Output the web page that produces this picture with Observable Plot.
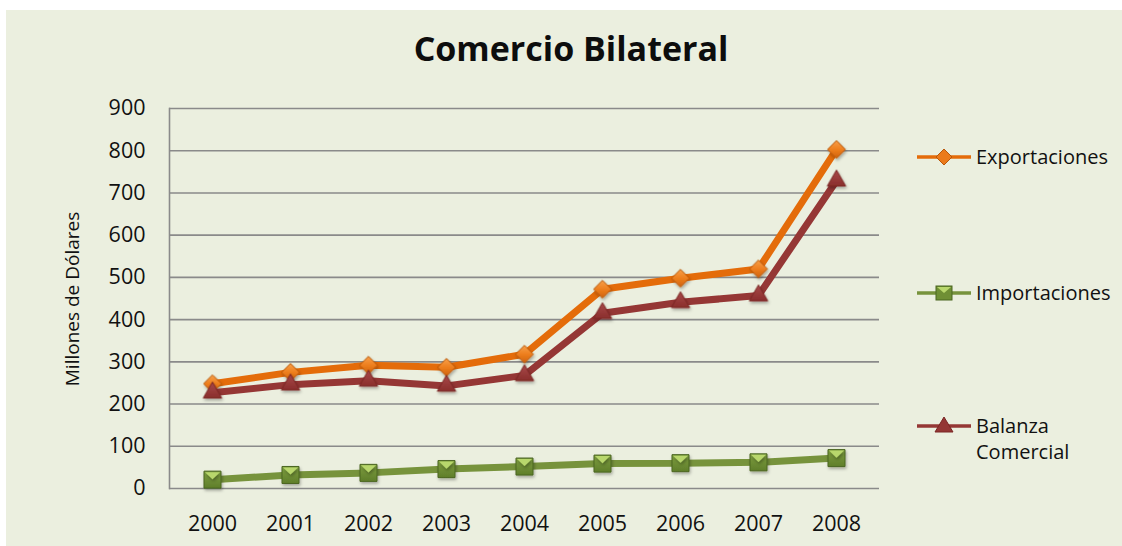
<!DOCTYPE html>
<html>
<head>
<meta charset="utf-8">
<script src="https://cdn.jsdelivr.net/npm/d3@7"></script>
<script src="https://cdn.jsdelivr.net/npm/@observablehq/plot@0.6"></script>
<style>
  html, body { margin: 0; padding: 0; background: #ffffff; }
  body { width: 1122px; height: 546px; overflow: hidden; position: relative; font-family: "Open Sans", sans-serif; color: #111; }
  #frame { position: absolute; left: 6px; top: 10px; width: 1116px; height: 536px; background: #EBEFDF; }
  #title { position: absolute; left: 0; top: 15px; width: 1130px; text-align: center; font-size: 34px; font-weight: 700; color: #0d0d0d; }
  #ylabel { position: absolute; left: 66px; top: 289px; transform: translate(-50%, -50%) rotate(-90deg); white-space: nowrap; font-size: 19px; color: #111; }
  #chart { position: absolute; left: 0; top: 0; }
  .leg { position: absolute; left: 911px; display: flex; align-items: flex-start; font-size: 20px; line-height: 26px; color: #111; }
  .leg svg { flex: none; }
  .leg span { margin-left: 3px; }
</style>
</head>
<body>
<div id="frame">
  <div id="title">Comercio Bilateral</div>
  <div id="chart"></div>
  <div id="ylabel">Millones de Dólares</div>
  <div id="legend"></div>
</div>
<script>
// ---- data ----
const years = ["2000", "2001", "2002", "2003", "2004", "2005", "2006", "2007", "2008"];
const exportaciones = [248, 275, 292, 287, 318, 472, 498, 520, 803];
const importaciones = [21, 32, 37, 46, 52, 59, 60, 62, 72];
const balanza = [227, 246, 255, 243, 268, 415, 441, 457, 729];
const seriesNames = ["Exportaciones", "Importaciones", "Balanza Comercial"];
const seriesColors = ["#E46C0A", "#77933C", "#953735"];
const yTicks = [0, 100, 200, 300, 400, 500, 600, 700, 800, 900];

const valuesBySeries = [exportaciones, importaciones, balanza];
const rows = seriesNames.flatMap((s, k) => years.map((y, i) => ({ year: y, value: valuesBySeries[k][i], serie: s })));
const bySerie = s => rows.filter(d => d.serie === s);

// envelope flap on the square markers
const flap = {
  draw(context, size) {
    const s = Math.sqrt(size) / 2;
    context.moveTo(-s + 1, -s + 1);
    context.lineTo(s - 1, -s + 1);
    context.lineTo(0, -s * 0.05);
    context.closePath();
  }
};

const defs = () => {
  const g = d3.create("svg:defs");
  const gd = g.append("linearGradient").attr("id", "gDiamond").attr("x1", 0).attr("y1", 0).attr("x2", 0).attr("y2", 1);
  gd.append("stop").attr("offset", "0%").attr("stop-color", "#F7A04A");
  gd.append("stop").attr("offset", "50%").attr("stop-color", "#EE7F1E");
  gd.append("stop").attr("offset", "100%").attr("stop-color", "#CF620C");
  const gt = g.append("linearGradient").attr("id", "gTri").attr("x1", 0).attr("y1", 0).attr("x2", 0).attr("y2", 1);
  gt.append("stop").attr("offset", "0%").attr("stop-color", "#A8494A");
  gt.append("stop").attr("offset", "100%").attr("stop-color", "#8A2E2C");
  const gs = g.append("linearGradient").attr("id", "gSq").attr("x1", 0).attr("y1", 0).attr("x2", 0).attr("y2", 1);
  gs.append("stop").attr("offset", "0%").attr("stop-color", "#7E9E40");
  gs.append("stop").attr("offset", "100%").attr("stop-color", "#5F7E2A");
  const f = g.append("filter").attr("id", "shadow").attr("x", "-50%").attr("y", "-50%").attr("width", "200%").attr("height", "200%");
  f.append("feDropShadow").attr("dx", 1).attr("dy", 2).attr("stdDeviation", 1.5).attr("flood-color", "#000").attr("flood-opacity", 0.3);
  return g.node();
};

const plot = Plot.plot({
  width: 900,
  height: 536,
  marginLeft: 163,
  marginRight: 27,
  marginTop: 98,
  marginBottom: 58,
  style: { background: "transparent", fontFamily: "Open Sans, sans-serif", fontSize: "21.5px", color: "#111", overflow: "visible" },
  x: { type: "point", domain: years, padding: 0.5, label: null },
  y: { domain: [0, 900], label: null },
  color: { domain: seriesNames, range: seriesColors },
  marks: [
    defs,
    Plot.gridY(yTicks, { stroke: "#8a8a8a", strokeOpacity: 1, strokeWidth: 1.6 }),
    Plot.frame({ anchor: "left", stroke: "#8a8a8a", strokeWidth: 1.6 }),
    Plot.axisY(yTicks, { tickSize: 0, tickPadding: 24, label: null, tickFormat: d => String(d) }),
    Plot.axisX({ tickSize: 0, tickPadding: 27, label: null }),
    Plot.line(bySerie("Exportaciones"), { x: "year", y: "value", stroke: "serie", strokeWidth: 7, strokeLinejoin: "miter" }),
    Plot.line(bySerie("Importaciones"), { x: "year", y: "value", stroke: "serie", strokeWidth: 7, strokeLinejoin: "miter" }),
    Plot.dot(bySerie("Exportaciones"), { x: "year", y: "value", symbol: "diamond2", r: 8, fill: "url(#gDiamond)", stroke: "#B8570A", strokeWidth: 1 }),
    Plot.dot(bySerie("Importaciones"), { x: "year", y: "value", symbol: "square", r: 9.6, fill: "url(#gSq)", stroke: "#4B6620", strokeWidth: 1 }),
    Plot.dot(bySerie("Importaciones"), { x: "year", y: "value", symbol: flap, r: 9.6, fill: "#B8D76C", stroke: "none" }),
    Plot.line(bySerie("Balanza Comercial"), { x: "year", y: "value", stroke: "serie", strokeWidth: 7, strokeLinejoin: "miter" }),
    Plot.dot(bySerie("Balanza Comercial"), { x: "year", y: "value", symbol: "triangle", r: 6.8, fill: "url(#gTri)", stroke: "#7A2624", strokeWidth: 1 })
  ]
});
plot.querySelectorAll('g[aria-label="dot"]').forEach(g => g.setAttribute("filter", "url(#shadow)"));
document.getElementById("chart").appendChild(plot);

// ---- legend ----
const legendTops = [134, 270, 403];
const legendLabels = [["Exportaciones"], ["Importaciones"], ["Balanza", "Comercial"]];
const legend = document.getElementById("legend");
seriesNames.forEach((s, k) => {
  const div = document.createElement("div");
  div.className = "leg";
  div.style.top = legendTops[k] + "px";
  const sym = d3.create("svg").attr("width", 56).attr("height", 26);
  sym.append("line").attr("x1", 0).attr("x2", 54).attr("y1", 13).attr("y2", 13).attr("stroke", seriesColors[k]).attr("stroke-width", 3.5);
  if (k === 0) {
    sym.append("path").attr("d", "M27,5 L35,13 L27,21 L19,13 Z").attr("fill", "#EB7A1A").attr("stroke", "#B8570A");
  } else if (k === 1) {
    sym.append("rect").attr("x", 19).attr("y", 6).attr("width", 16).attr("height", 14).attr("fill", "#6F8F35").attr("stroke", "#4B6620");
    sym.append("path").attr("d", "M20,7 L34,7 L27,13 Z").attr("fill", "#B8D76C");
  } else {
    sym.append("path").attr("d", "M27,4 L36,19 L18,19 Z").attr("fill", "#943634").attr("stroke", "#7A2624");
  }
  div.appendChild(sym.node());
  const span = document.createElement("span");
  span.innerHTML = legendLabels[k].join("<br>");
  div.appendChild(span);
  legend.appendChild(div);
});
</script>
</body>
</html>
